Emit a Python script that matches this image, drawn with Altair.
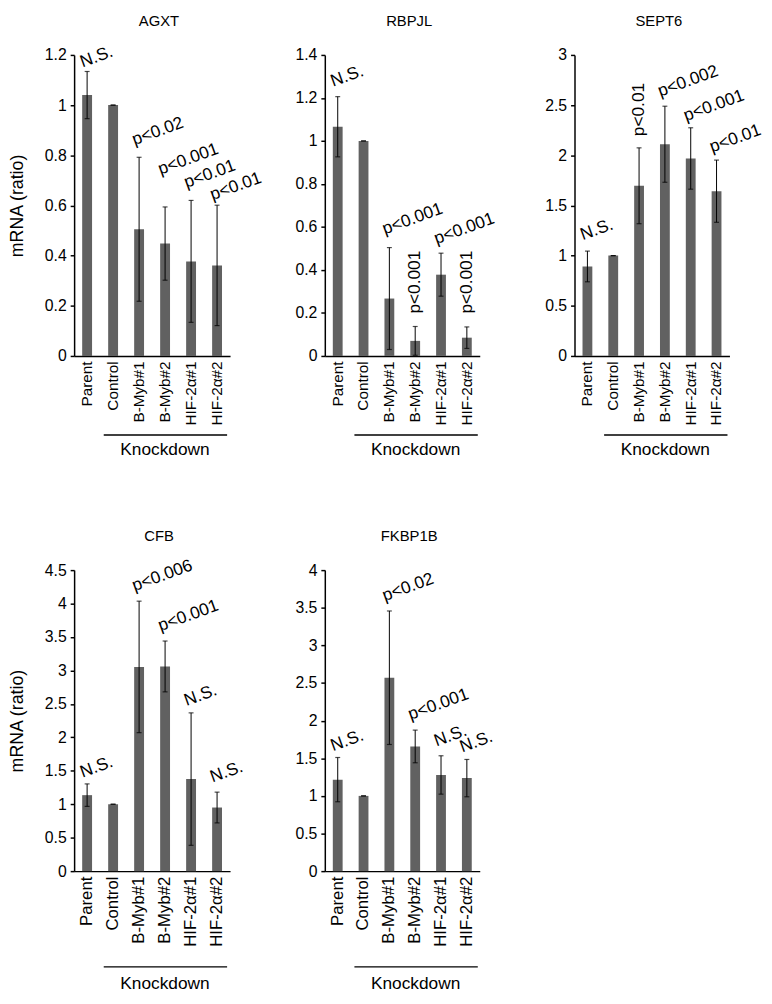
import altair as alt
import pandas as pd

categories = ["Parent", "Control", "B-Myb#1", "B-Myb#2", "HIF-2α#1", "HIF-2α#2"]
genes = ["AGXT", "RBPJL", "SEPT6", "CFB", "FKBP1B"]

# AGXT
agxt_mean = [1.04, 1.0, 0.505, 0.448, 0.377, 0.361]
agxt_err = [0.094, 0.0, 0.287, 0.146, 0.243, 0.24]
agxt_sig = ["N.S.", "", "p<0.02", "p<0.001", "p<0.01", "p<0.01"]
agxt_sig_y = [1.157, None, 0.847, 0.729, 0.676, 0.627]
agxt_sig_vert = [False, False, False, False, False, False]
agxt_ticks = [0, 0.2, 0.4, 0.6, 0.8, 1.0, 1.2]

# RBPJL
rbpjl_mean = [1.066, 1.0, 0.267, 0.07, 0.378, 0.085]
rbpjl_err = [0.14, 0.0, 0.237, 0.067, 0.1, 0.05]
rbpjl_sig = ["N.S.", "", "p<0.001", "p<0.001", "p<0.001", "p<0.001"]
rbpjl_sig_y = [1.26, None, 0.573, 0.197, 0.527, 0.197]
rbpjl_sig_vert = [False, False, False, True, False, True]
rbpjl_ticks = [0, 0.2, 0.4, 0.6, 0.8, 1.0, 1.2, 1.4]

# SEPT6
sept6_mean = [0.892, 1.0, 1.696, 2.11, 1.968, 1.642]
sept6_err = [0.153, 0.0, 0.378, 0.379, 0.306, 0.31]
sept6_sig = ["N.S.", "", "p<0.01", "p<0.002", "p<0.001", "p<0.01"]
sept6_sig_y = [1.17, None, 2.19, 2.6, 2.357, 2.044]
sept6_sig_vert = [False, False, True, False, False, False]
sept6_ticks = [0, 0.5, 1.0, 1.5, 2.0, 2.5, 3.0]

# CFB
cfb_mean = [1.136, 1.0, 3.053, 3.06, 1.376, 0.951]
cfb_err = [0.168, 0.0, 0.983, 0.38, 0.99, 0.23]
cfb_sig = ["N.S.", "", "p<0.006", "p<0.001", "N.S.", "N.S."]
cfb_sig_y = [1.423, None, 4.21, 3.61, 2.495, 1.349]
cfb_sig_vert = [False, False, False, False, False, False]
cfb_ticks = [0, 0.5, 1.0, 1.5, 2.0, 2.5, 3.0, 3.5, 4.0, 4.5]

# FKBP1B
fkbp_mean = [1.216, 1.0, 2.57, 1.657, 1.278, 1.236]
fkbp_err = [0.294, 0.0, 0.887, 0.217, 0.255, 0.248]
fkbp_sig = ["N.S.", "", "p<0.02", "p<0.001", "N.S.", "N.S."]
fkbp_sig_y = [1.616, None, 3.61, 2.03, 1.68, 1.60]
fkbp_sig_vert = [False, False, False, False, False, False]
fkbp_ticks = [0, 0.5, 1.0, 1.5, 2.0, 2.5, 3.0, 3.5, 4.0]

group_label = ["Knockdown"]

FONT = "Liberation Sans"
BAR = "#616161"
H = 305


def panel(name, mean, err, sig, sig_y, vert, ticks, width, show_ytitle,
          xlab_size, kd_line_off, kd_text_off):
    df = pd.DataFrame({"cat": categories, "mean": mean, "err": err,
                       "sig": sig, "sig_y": sig_y, "vert": vert})
    ytitle = "mRNA (ratio)" if show_ytitle else None

    xenc = alt.X("cat:N", sort=categories, title=None,
                 scale=alt.Scale(paddingInner=0.62, paddingOuter=0.31),
                 axis=alt.Axis(labelAngle=270, labelAlign="right", labelBaseline="middle",
                               labelPadding=5, ticks=False, domainColor="black",
                               domainWidth=1.5, labelFontSize=xlab_size, labelColor="black",
                               labelFont=FONT, labelOverlap=False, labelBound=False))

    def Y(field):
        return alt.Y(field, type="quantitative", title=ytitle,
                     scale=alt.Scale(domain=[0, ticks[-1]], nice=False),
                     axis=alt.Axis(values=ticks, format=".1~f", grid=False, tickSize=4,
                                   tickColor="black", tickWidth=1.5, domainColor="black",
                                   domainWidth=1.5, labelFontSize=16, labelColor="black",
                                   labelFont=FONT, labelPadding=4, titleFontSize=18,
                                   titleFontWeight="normal", titleColor="black",
                                   titleFont=FONT, titlePadding=18))

    base = alt.Chart(df).transform_calculate(
        lo="datum.mean - datum.err", hi="datum.mean + datum.err")

    bars = base.mark_bar(color=BAR).encode(x=xenc, y=Y("mean"))
    rule = base.mark_rule(color="black", strokeWidth=1).encode(
        x=xenc, y=Y("lo"), y2="hi:Q")
    cap_hi = base.mark_tick(color="black", thickness=1.2, size=5, orient="horizontal").encode(
        x=xenc, y=Y("hi"))
    cap_lo = base.mark_tick(color="black", thickness=1.2, size=5, orient="horizontal").encode(
        x=xenc, y=Y("lo"))
    txt_s = base.transform_filter("datum.sig != '' && !datum.vert").mark_text(
        angle=340, align="left", baseline="alphabetic", dx=-5, fontSize=17.5,
        font=FONT, color="black").encode(x=xenc, y=Y("sig_y"), text="sig:N")
    txt_v = base.transform_filter("datum.sig != '' && datum.vert").mark_text(
        angle=270, align="left", baseline="middle", fontSize=17.5,
        font=FONT, color="black").encode(x=xenc, y=Y("sig_y"), text="sig:N")

    kd = alt.Chart(pd.DataFrame({"t": group_label}))
    kd_line = kd.mark_rule(color="black", strokeWidth=1.5).encode(
        x=alt.value(30), x2=alt.value(155), y=alt.value(H + kd_line_off))
    kd_text = kd.mark_text(fontSize=17.5, font=FONT, color="black", baseline="middle").encode(
        x=alt.value(92), y=alt.value(H + kd_text_off), text="t:N")

    ttl = alt.Chart(pd.DataFrame({"g": [name]})).mark_text(
        fontSize=15, font=FONT, color="black", baseline="alphabetic", align="center").encode(
        x=alt.value(width / 2 + 7), y=alt.value(-29), text="g:N")

    return alt.layer(bars, rule, cap_hi, cap_lo, txt_s, txt_v, kd_line, kd_text, ttl).properties(
        width=width, height=H)


p1 = panel(genes[0], agxt_mean, agxt_err, agxt_sig, agxt_sig_y, agxt_sig_vert, agxt_ticks,
           158, True, 15.5, 80, 95)
p2 = panel(genes[1], rbpjl_mean, rbpjl_err, rbpjl_sig, rbpjl_sig_y, rbpjl_sig_vert, rbpjl_ticks,
           157, False, 15.5, 80, 95)
p3 = panel(genes[2], sept6_mean, sept6_err, sept6_sig, sept6_sig_y, sept6_sig_vert, sept6_ticks,
           157, False, 15.5, 80, 95)
p4 = panel(genes[3], cfb_mean, cfb_err, cfb_sig, cfb_sig_y, cfb_sig_vert, cfb_ticks,
           158, True, 17, 97, 114)
p5 = panel(genes[4], fkbp_mean, fkbp_err, fkbp_sig, fkbp_sig_y, fkbp_sig_vert, fkbp_ticks,
           157, False, 17, 97, 114)

chart = alt.concat(p1, p2, p3, p4, p5, columns=3,
                   spacing={"row": 217, "column": 96}, bounds="flush").properties(
    padding=0).configure(font=FONT).configure_view(stroke=None)

chart.save("out.html", embed_options={"renderer": "svg", "actions": False})
